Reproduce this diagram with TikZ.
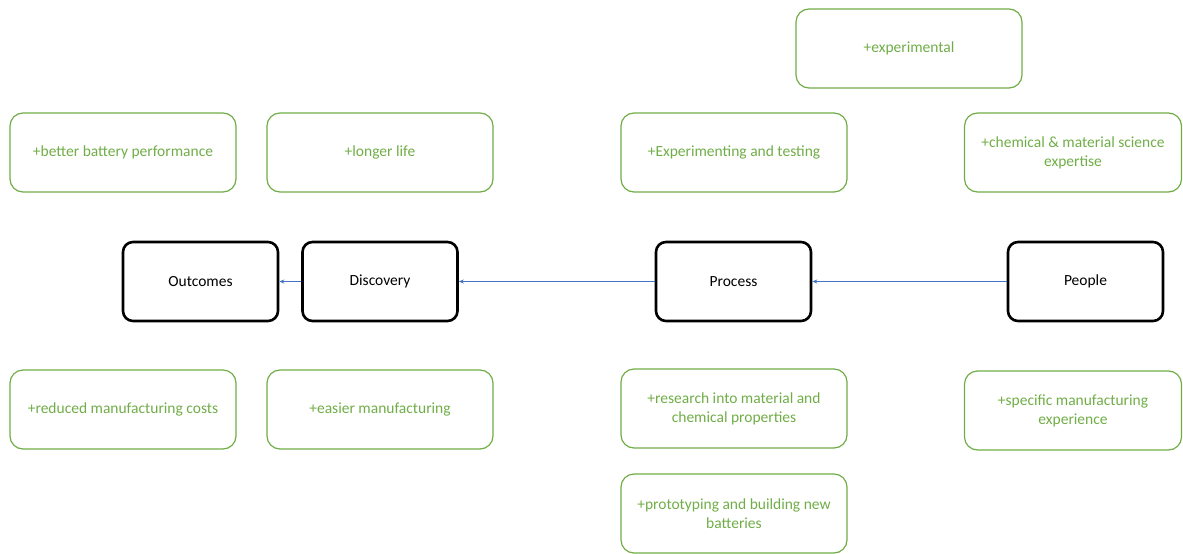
\documentclass[tikz,border=0pt]{standalone}
\usepackage{fontspec}
\setmainfont{Carlito}
\usetikzlibrary{arrows.meta}
\definecolor{grn}{RGB}{112,173,71}
\definecolor{blu}{RGB}{68,114,196}
\tikzset{
  gbox/.style={draw=grn, line width=1.2pt, rounded corners=13pt, minimum width=226pt, minimum height=79pt, text=grn, align=center, inner sep=0pt, font=\fontsize{15.5}{19}\selectfont},
  kbox/.style={draw=black, line width=2.6pt, rounded corners=10pt, minimum width=155pt, minimum height=79pt, align=center, inner sep=0pt, font=\fontsize{15.5}{19}\selectfont},
  conn/.style={draw=blu, line width=0.8pt, -{Stealth[length=5pt,width=4pt]}}
}
\begin{document}
\begin{tikzpicture}[x=1pt,y=-1pt]
\useasboundingbox (0,0) rectangle (1183,554);
\node[gbox] (exp) at (909,48.5) {+experimental};
\node[gbox] (bbp) at (123,152.5) {+better battery performance};
\node[gbox] (ll) at (380,152.5) {+longer life};
\node[gbox] (eat) at (734,152.5) {+Experimenting and testing};
\node[gbox, minimum width=217pt] (cms) at (1073,152.5) {+chemical \& material science\\expertise};
\node[kbox] (out) at (200.5,281.5) {Outcomes};
\node[kbox] (dis) at (380,281.5) {Discovery};
\node[kbox] (pro) at (733.5,281.5) {Process};
\node[kbox] (peo) at (1085.5,281.5) {People};
\node[gbox] (rmc) at (123,409.5) {+reduced manufacturing costs};
\node[gbox] (em) at (380,409.5) {+easier manufacturing};
\node[gbox] (rim) at (734,408.5) {+research into material and\\chemical properties};
\node[gbox, minimum width=217pt] (smx) at (1073,410.5) {+specific manufacturing\\experience};
\node[gbox] (pbn) at (734,513.5) {+prototyping and building new\\batteries};
\draw[conn] (peo.west) -- (pro.east);
\draw[conn] (pro.west) -- (dis.east);
\draw[conn] (dis.west) -- (out.east);
\end{tikzpicture}
\end{document}
